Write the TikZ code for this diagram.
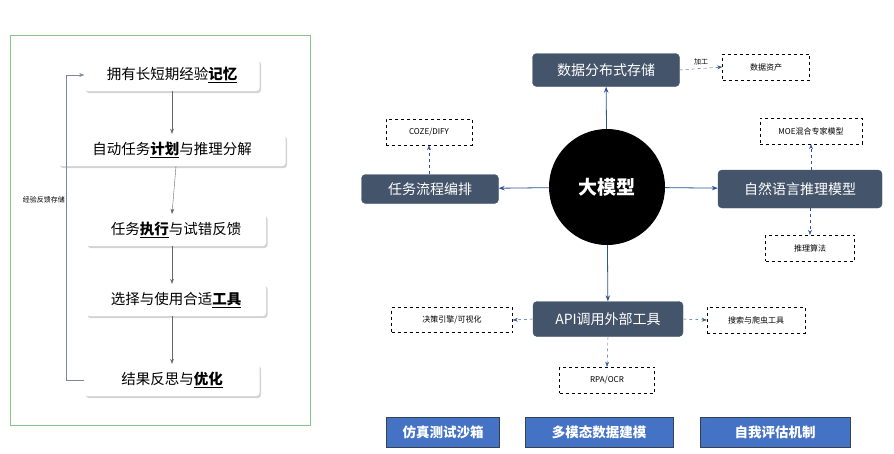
\documentclass[tikz,border=0pt]{standalone}
\usepackage{fontspec}
\setmainfont{Noto Sans CJK SC}
\usetikzlibrary{arrows.meta,shadows}
\definecolor{slate}{HTML}{44546A}
\definecolor{bblue}{HTML}{4472C4}
\definecolor{arr}{HTML}{2F5597}
\tikzset{
 lbox/.style={draw=none,fill=white,rounded corners=3pt,drop shadow={shadow xshift=1.5pt,shadow yshift=-2pt,opacity=0.35},minimum height=32pt,font=\fontsize{14.5}{16}\selectfont},
 dbox/.style={draw=slate,fill=slate,rounded corners=4pt,text=white,minimum height=33pt,font=\fontsize{14}{16}\selectfont},
 dash box/.style={draw,dashed,minimum height=26pt,font=\fontsize{8}{10}\selectfont},
 bbox/.style={draw=slate!80!black,fill=bblue,text=white,minimum height=30pt,font=\bfseries\fontsize{13.5}{16}\selectfont},
 garr/.style={draw=gray!80!black,-{Stealth[length=5pt]}},
 barr/.style={draw=arr,thick,-{Stealth[length=6pt]}},
 darr/.style={draw=arr,dashed,-{Stealth[length=5pt]}},
}
\newcommand{\hl}[1]{\textbf{\underline{#1}}}
\begin{document}
\begin{tikzpicture}[x=1pt,y=-1pt]
\useasboundingbox (0,0) rectangle (894,453);
\draw[draw=green!35!gray!70] (10,35) rectangle (310,425);
\node[lbox,minimum width=175pt] (m1) at (172,75) {拥有长短期经验\hl{记忆}};
\node[lbox,minimum width=227pt] (m2) at (172,150) {自动任务\hl{计划}与推理分解};
\node[lbox,minimum width=180pt] (m3) at (176,230) {任务\hl{执行}与试错反馈};
\node[lbox,minimum width=180pt] (m4) at (176,300) {选择与使用合适\hl{工具}};
\node[lbox,minimum width=175pt] (m5) at (172,380) {结果反思与\hl{优化}};
\draw[garr] (m1.south) -- (m2.north);
\draw[garr] ([xshift=4pt]m2.south) -- ([xshift=-4pt]m3.north);
\draw[garr] ([xshift=-4pt]m3.south) -- ([xshift=-4pt]m4.north);
\draw[garr] ([xshift=-4pt]m4.south) -- ([xshift=0pt]m5.north);
\draw[draw=slate!70,-{Stealth[length=5pt]}] (m5.west) -- (66,380) -- node[pos=0.59,left,text=black,font=\fontsize{7}{9}\selectfont,fill=white,inner sep=1pt]{经验反馈存储} (66,75) -- (m1.west);

\node[circle,fill=black,minimum size=116pt,text=white,font=\bfseries\fontsize{19}{22}\selectfont] (c) at (607,187) {大模型};
\node[dbox,minimum width=147pt] (t) at (606,70) {数据分布式存储};
\node[dbox,minimum width=137pt,minimum height=29pt] (l) at (430,189) {任务流程编排};
\node[dbox,minimum width=164pt,minimum height=38pt] (r) at (800,189) {自然语言推理模型};
\node[dbox,minimum width=150pt,minimum height=35pt] (b) at (608,319) {API调用外部工具};
\draw[barr] (c) -- (t);
\draw[barr] (c) -- (l);
\draw[barr] (c) -- (r);
\draw[barr] (c) -- (b);

\node[dash box,minimum width=87pt] (d1) at (766,67) {数据资产};
\node[dash box,minimum width=86pt] (d2) at (429,132) {COZE/DIFY};
\node[dash box,minimum width=102pt] (d3) at (811,131) {MOE混合专家模型};
\node[dash box,minimum width=89pt] (d4) at (810,248) {推理算法};
\node[dash box,minimum width=121pt,minimum height=25pt] (d5) at (452,320) {决策引擎/可视化};
\node[dash box,minimum width=98pt] (d6) at (756,320) {搜索与爬虫工具};
\node[dash box,minimum width=95pt] (d7) at (607,380) {RPA/OCR};
\draw[darr] (t.east) -- node[above,font=\fontsize{7}{9}\selectfont,text=black]{加工} (d1.west);
\draw[darr] (l.north -| d2) -- (d2.south);
\draw[darr] (r.north -| d3) -- (d3.south);
\draw[darr] (r.south -| d4) -- (d4.north);
\draw[darr] (b.west) -- (d5.east);
\draw[darr] (b.east) -- (d6.west);
\draw[darr] (b.south) -- (d7.north);

\node[bbox,minimum width=113pt] (e1) at (443,432) {仿真测试沙箱};
\node[bbox,minimum width=148pt] (e2) at (599,432) {多模态数据建模};
\node[bbox,minimum width=150pt] (e3) at (775,432) {自我评估机制};
\end{tikzpicture}
\end{document}
